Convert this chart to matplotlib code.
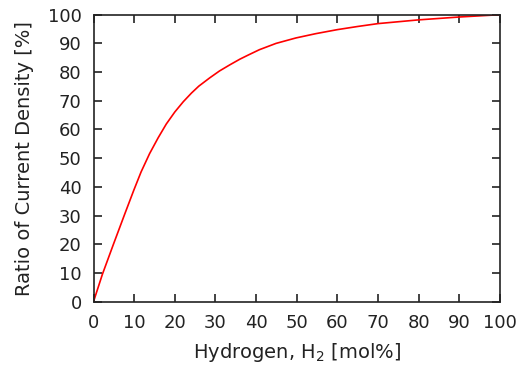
import matplotlib
matplotlib.use("Agg")
import matplotlib.pyplot as plt

# Values
hydrogen = [0, 2.2, 4.9, 7.7, 9.9, 11.7, 13.8, 15.9, 17.9, 20.0, 22.1, 24.1, 25.9, 28.6,
            31.0, 33.5, 36.0, 38.0, 40.8, 44.9, 49.8, 54.7, 60, 65, 70, 80, 90, 100]
ratio = [0, 9.6, 20, 30.6, 38.8, 45.2, 51.6, 57.1, 61.9, 66.1, 69.7, 72.7, 75.1, 78.0,
         80.4, 82.5, 84.5, 85.9, 87.8, 90.0, 91.9, 93.4, 94.8, 95.9, 96.9, 98.2, 99.2, 100]
xticks = list(range(0, 101, 10))
yticks = list(range(0, 101, 10))

plt.rcParams['font.family'] = ['DejaVu Sans']
fig = plt.figure(figsize=(5.31, 3.68), dpi=100)
ax = fig.add_axes([93.5/531, 1-301.7/368, (500-93.5)/531, (301.7-14.7)/368])
ax.plot(hydrogen, ratio, color='#ff0000', lw=1.2, solid_joinstyle='round')
ax.set_xlim(0, 100)
ax.set_ylim(0, 100)
ax.set_xticks(xticks)
ax.set_yticks(yticks)
ax.tick_params(direction='in', length=6, width=1.2, top=True, right=True,
               labelsize=13, colors='#222222')
ax.tick_params(axis='x', pad=9)
ax.tick_params(axis='y', pad=8.5)
for s in ax.spines.values():
    s.set_linewidth(1.2)
    s.set_color('#222222')
ax.set_xlabel('Hydrogen, H$_2$ [mol%]', fontsize=14, color='#222222', labelpad=6)
ax.set_ylabel('Ratio of Current Density [%]', fontsize=14, color='#222222', labelpad=10)
fig.savefig('out.png', dpi=100)
